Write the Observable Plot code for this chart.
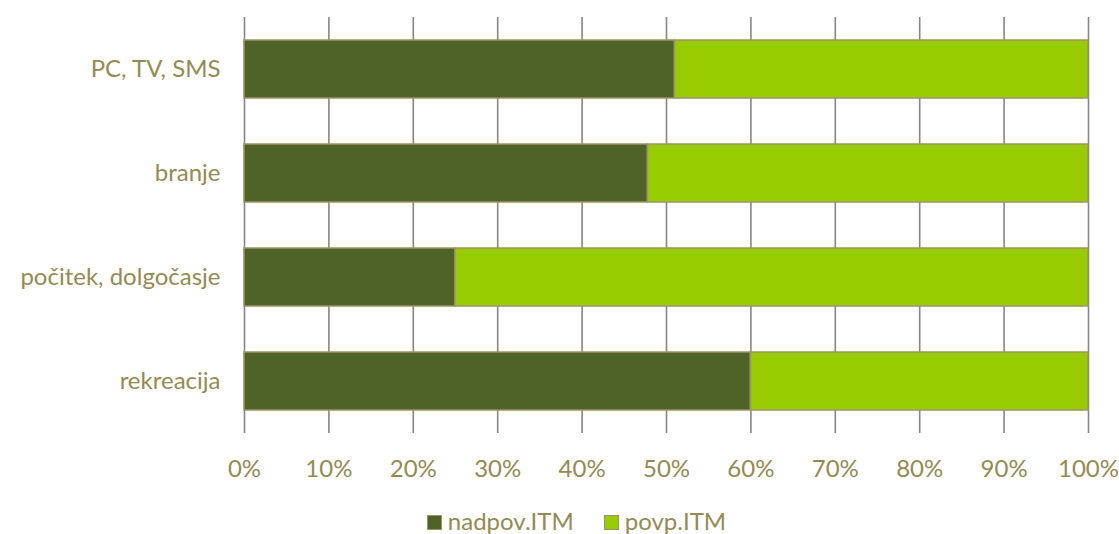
<!DOCTYPE html>
<html><head><meta charset="utf-8">
<script src="https://cdn.jsdelivr.net/npm/d3@7"></script>
<script src="https://cdn.jsdelivr.net/npm/@observablehq/plot@0.6"></script>
<style>
body{margin:0;background:#fff;font-family:Lato,"Open Sans",sans-serif;}
#chart svg{display:block;}
#legend{display:flex;justify-content:center;align-items:center;gap:30px;height:34px;margin-left:34px;color:#948A54;font-size:24px;margin-top:9px;}
#legend span.sw{display:inline-block;width:13px;height:13px;border:1.5px solid #9C9463;margin-right:6px;vertical-align:0px;}
</style></head>
<body>
<div id="chart"></div>
<div id="legend"></div>
<script>
const categories = ["PC, TV, SMS", "branje", "počitek, dolgočasje", "rekreacija"];
const nadpov = [51, 47.8, 25, 60];
const povp = [49, 52.2, 75, 40];
const seriesNames = ["nadpov.ITM", "povp.ITM"];
const seriesColors = ["#4F6228", "#99CC00"];
const ticks = [0,10,20,30,40,50,60,70,80,90,100];

const data = [];
categories.forEach((c,i)=>{
  data.push({cat:c, series:seriesNames[0], value:nadpov[i]});
  data.push({cat:c, series:seriesNames[1], value:povp[i]});
});

const plot = Plot.plot({
  width:1119, height:494,
  marginTop:17, marginBottom:61, marginLeft:244, marginRight:31,
  style:{fontFamily:"Lato, 'Open Sans', sans-serif", fontSize:"24px", color:"#948A54", background:"#fff"},
  x:{domain:[0,100], ticks, tickFormat:d=>d+"%", label:null},
  y:{domain:categories, paddingInner:0.44, paddingOuter:0.22, label:null},
  color:{domain:seriesNames, range:seriesColors},
  marks:[
    Plot.ruleX(ticks,{stroke:"#868686", strokeWidth:1.6}),
    Plot.barX(data, Plot.stackX({x:"value", y:"cat", fill:"series", stroke:"#9C9463", strokeWidth:1.5, order:seriesNames})),
    Plot.axisX({ticks, tickFormat:d=>d+"%", tickSize:0, tickPadding:26, fontSize:24, fill:"#948A54", label:null}),
    Plot.axisY({tickSize:0, tickPadding:24, fontSize:24, fill:"#948A54", label:null})
  ]
});
document.getElementById("chart").appendChild(plot);

const lg = document.getElementById("legend");
seriesNames.forEach((s,i)=>{
  const d=document.createElement("div");
  d.innerHTML=`<span class="sw" style="background:${seriesColors[i]}"></span>${s}`;
  lg.appendChild(d);
});
</script>
</body></html>
